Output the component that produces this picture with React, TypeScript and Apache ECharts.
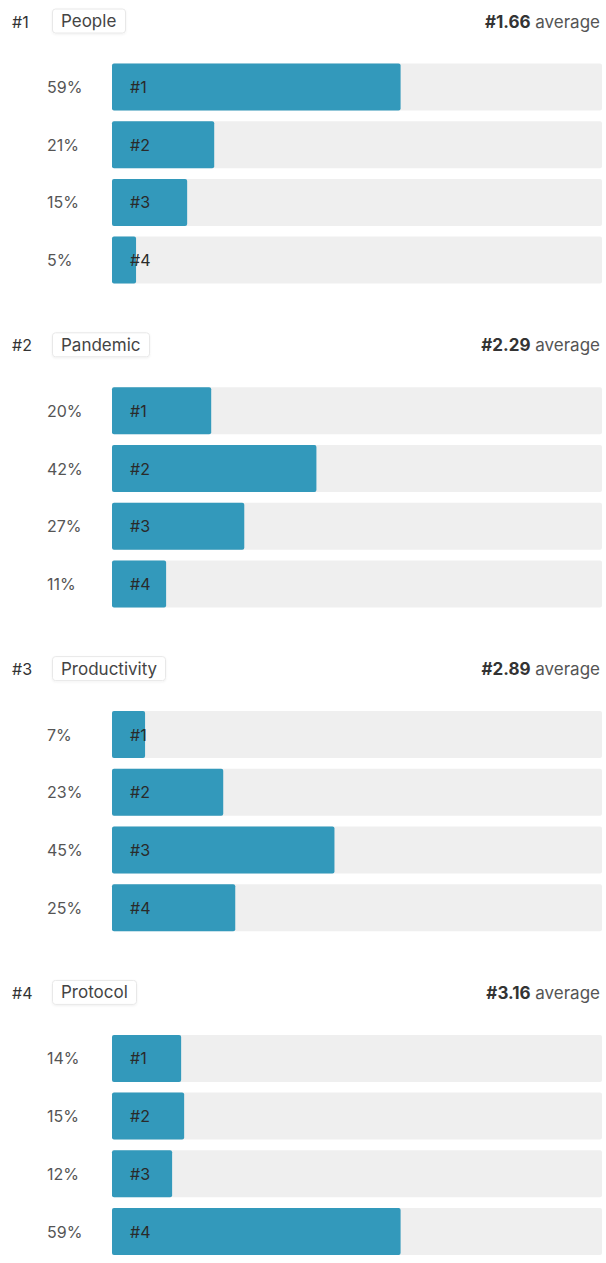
import React, { useEffect, useRef } from "react";
import * as echarts from "echarts";

const groupLabels = ["People", "Pandemic", "Productivity", "Protocol"];
const groupRanks = ["#1", "#2", "#3", "#4"];
const averages = ["1.66", "2.29", "2.89", "3.16"];
const rankCategories = ["#1", "#2", "#3", "#4"];
const responses = [
  [96, 34, 25, 8],
  [33, 68, 44, 18],
  [11, 37, 74, 41],
  [23, 24, 20, 96],
];

const FONT = "Inter";
const BAR_TOP0 = 63.5;
const GROUP_STEP = 323.8;
const BAND = 57.7;
const BAR_H = 47;

export default function App() {
  const ref = useRef<HTMLDivElement>(null);
  useEffect(() => {
    document.body.style.margin = "0";
    const chart = echarts.init(ref.current!, null, { renderer: "svg" });
    const grids: any[] = [];
    const xAxes: any[] = [];
    const yAxes: any[] = [];
    const series: any[] = [];
    const titles: any[] = [];
    responses.forEach((vals, g) => {
      const total = vals.reduce((a, b) => a + b, 0);
      const barTop = BAR_TOP0 + g * GROUP_STEP;
      const gridTop = barTop - (BAND - BAR_H) / 2;
      const headerY = barTop - 42;
      grids.push({ left: 112, right: 4, top: gridTop, height: BAND * 4, containLabel: false });
      xAxes.push({ gridIndex: g, type: "value", min: 0, max: total, show: false });
      yAxes.push({
        gridIndex: g,
        type: "category",
        data: rankCategories,
        inverse: true,
        axisLine: { show: false },
        axisTick: { show: false },
        axisLabel: {
          align: "left",
          margin: 65,
          fontFamily: FONT,
          fontSize: 16,
          color: "#555",
          formatter: (_v: string, i: number) => Math.round((vals[i] / total) * 100) + "%",
        },
      });
      yAxes.push({
        gridIndex: g,
        type: "category",
        data: rankCategories,
        inverse: true,
        position: "right",
        axisLine: { show: false },
        axisTick: { show: false },
        axisLabel: {
          inside: true,
          align: "right",
          margin: 21,
          fontFamily: FONT,
          fontSize: 15,
          color: "#555",
          formatter: (_v: string, i: number) => `{b|${vals[i]}} responses`,
          rich: {
            b: { fontFamily: FONT, fontSize: 15, fontWeight: "bold", color: "#333" },
          },
        },
      });
      series.push({
        type: "bar",
        xAxisIndex: g,
        yAxisIndex: g * 2,
        data: vals,
        barWidth: BAR_H,
        showBackground: true,
        backgroundStyle: { color: "#efefef", borderRadius: 2 },
        itemStyle: { color: "#3399bb", borderRadius: 2 },
        label: {
          show: true,
          position: "insideLeft",
          distance: 18,
          formatter: (p: any) => p.name,
          fontFamily: FONT,
          fontSize: 16,
          color: "#2a2a2a",
        },
      });
      titles.push({
        text: groupRanks[g],
        left: 12,
        top: headerY - 9,
        padding: 0,
        textStyle: { fontFamily: FONT, fontSize: 16, fontWeight: "normal", color: "#333", lineHeight: 18 },
      });
      titles.push({
        text: groupLabels[g],
        left: 52,
        top: headerY - 13,
        padding: [3, 9, 3, 9],
        backgroundColor: "#fff",
        borderColor: "#e8e8e8",
        borderWidth: 1,
        borderRadius: 3,
        shadowColor: "rgba(0,0,0,0.06)",
        shadowBlur: 2,
        shadowOffsetY: 1,
        textStyle: { fontFamily: FONT, fontSize: 17, fontWeight: "normal", color: "#444", lineHeight: 19 },
      });
      titles.push({
        text: `{b|#${averages[g]}} average`,
        right: 6,
        top: headerY - 10,
        padding: 0,
        textStyle: {
          fontFamily: FONT,
          fontSize: 17,
          fontWeight: "normal",
          color: "#555",
          lineHeight: 20,
          rich: { b: { fontFamily: FONT, fontSize: 17, fontWeight: "bold", color: "#333", lineHeight: 20 } },
        },
      });
    });
    chart.setOption({
      animation: false,
      backgroundColor: "#fff",
      title: titles,
      grid: grids,
      xAxis: xAxes,
      yAxis: yAxes,
      series,
    });
    return () => chart.dispose();
  }, []);
  return <div ref={ref} style={{ width: 606, height: 1263 }} />;
}
